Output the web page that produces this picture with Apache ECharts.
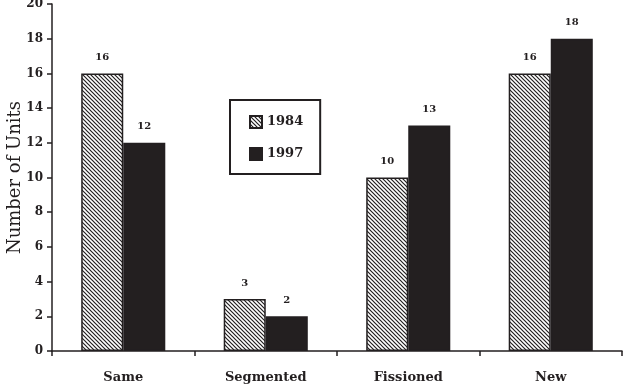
<!DOCTYPE html>
<html><head><meta charset="utf-8">
<script src="https://cdn.jsdelivr.net/npm/echarts@6/dist/echarts.min.js"></script>
<style>html,body{margin:0;padding:0;background:#fff}#c{width:624px;height:384px}</style>
</head><body><div id="c"></div>
<script>
const categories = ['Same', 'Segmented', 'Fissioned', 'New'];
const values1984 = [16, 3, 10, 16];
const values1997 = [12, 2, 13, 18];
const yTicks = [0, 2, 4, 6, 8, 10, 12, 14, 16, 18, 20];

function hatch() {
  const s = 4, c = document.createElement('canvas');
  c.width = s; c.height = s;
  const g = c.getContext('2d');
  g.fillStyle = '#fff'; g.fillRect(0, 0, s, s);
  g.strokeStyle = '#231f20'; g.lineWidth = 1.2;
  g.beginPath();
  g.moveTo(-1, -1); g.lineTo(s + 1, s + 1);
  g.moveTo(-1, s - 1); g.lineTo(1, s + 1);
  g.moveTo(s - 1, -1); g.lineTo(s + 1, 1);
  g.stroke();
  return c;
}
const ink = '#231f20';
const serif = '"DejaVu Serif", "Liberation Serif", serif';
const chart = echarts.init(document.getElementById('c'));
chart.setOption({
  animation: false,
  textStyle: { fontFamily: serif, color: ink },
  grid: { left: 52, right: 2, top: 4, bottom: 33, containLabel: false, outerBoundsMode: 'none' },
  legend: {
    orient: 'vertical', left: 230, top: 100,
    padding: [15, 17, 13, 19], itemGap: 18, itemWidth: 12, itemHeight: 12,
    borderColor: ink, borderWidth: 2, icon: 'rect',
    textStyle: { fontFamily: serif, fontWeight: 'bold', fontSize: 13, color: ink },
    data: ['1984', '1997']
  },
  xAxis: {
    type: 'category', data: categories,
    axisLine: { lineStyle: { color: ink, width: 1.5 } },
    axisTick: { show: true, length: 5, lineStyle: { color: ink, width: 1.5 } },
    axisLabel: { fontFamily: serif, fontWeight: 'bold', fontSize: 13, color: ink, margin: 20 }
  },
  yAxis: {
    type: 'value', min: 0, max: 20, interval: 2,
    name: 'Number of Units', nameLocation: 'middle', nameGap: 28, nameMoveOverlap: false,
    nameTextStyle: { fontFamily: serif, fontSize: 18, color: ink },
    axisLine: { show: true, lineStyle: { color: ink, width: 1.5 } },
    axisTick: { show: true, length: 5, lineStyle: { color: ink, width: 1.5 } },
    splitLine: { show: false },
    axisLabel: { fontFamily: serif, fontWeight: 'bold', fontSize: 12, color: ink, margin: 9,
      formatter: v => yTicks.includes(v) ? String(v) : '' }
  },
  series: [
    { name: '1984', type: 'bar', data: values1984, barWidth: '29.5%', barGap: '0%',
      itemStyle: { color: { image: hatch(), repeat: 'repeat' }, borderColor: ink, borderWidth: 1.5 },
      label: { show: true, position: 'top', distance: 11, fontFamily: serif, fontWeight: 'bold', fontSize: 10, color: ink } },
    { name: '1997', type: 'bar', data: values1997, barWidth: '29.5%', barGap: '0%',
      itemStyle: { color: ink, borderColor: ink, borderWidth: 1.5 },
      label: { show: true, position: 'top', distance: 11, fontFamily: serif, fontWeight: 'bold', fontSize: 10, color: ink } }
  ]
});
</script></body></html>
